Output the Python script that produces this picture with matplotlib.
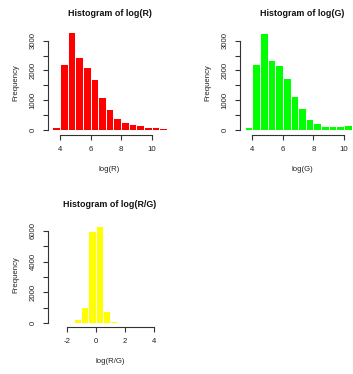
import matplotlib
matplotlib.use("Agg")
import matplotlib.pyplot as plt
import numpy as np

plt.rcParams['font.family'] = ['Liberation Sans', 'DejaVu Sans']

# Histogram bin edges (width 0.5) and counts
r_edges = [3.5, 4.0, 4.5, 5.0, 5.5, 6.0, 6.5, 7.0, 7.5, 8.0, 8.5, 9.0, 9.5, 10.0, 10.5, 11.0]
r_counts = [100, 2230, 3280, 2460, 2120, 1700, 1100, 700, 400, 250, 190, 160, 100, 100, 45]

g_edges = [3.5, 4.0, 4.5, 5.0, 5.5, 6.0, 6.5, 7.0, 7.5, 8.0, 8.5, 9.0, 9.5, 10.0, 10.5]
g_counts = [90, 2230, 3270, 2340, 2170, 1740, 1120, 720, 360, 230, 125, 125, 125, 170]

rg_edges = [-1.5, -1.0, -0.5, 0.0, 0.5, 1.0, 1.5, 2.0]
rg_counts = [290, 1030, 6000, 6330, 810, 150, 40]

r_xticks = [4, 6, 8, 10]
g_xticks = [4, 6, 8, 10]
rg_xticks = [-2, 0, 2, 4]

W, H = 353, 374
fig = plt.figure(figsize=(W / 100, H / 100), dpi=100)


def px_axes(left, right, top, bottom):
    return fig.add_axes([left / W, 1 - bottom / H, (right - left) / W, (bottom - top) / H])


def r_hist(ax, edges, counts, color, title, title_y, xlabel, xlim, ylim, xticks, ystep, ylabstep):
    edges = np.asarray(edges)
    ax.bar(edges[:-1], counts, width=np.diff(edges), align='edge',
           color=color, edgecolor='white', linewidth=0.7)
    ax.set_xlim(*xlim)
    ax.set_ylim(*ylim)
    for s in ('top', 'right'):
        ax.spines[s].set_visible(False)
    ax.spines['bottom'].set_bounds(xticks[0], xticks[-1])
    ymax = ystep * int(max(counts) // ystep)
    yt = np.arange(0, ymax + 1, ystep)
    ax.spines['left'].set_bounds(0, yt[-1])
    for s in ('bottom', 'left'):
        ax.spines[s].set_linewidth(0.8)
        ax.spines[s].set_color('#333333')
    ax.set_xticks(xticks)
    ax.set_xticklabels([str(t) for t in xticks])
    ax.set_yticks(yt)
    ax.set_yticklabels([str(int(v)) if v % ylabstep == 0 else '' for v in yt],
                       rotation=90, va='center')
    ax.tick_params(direction='out', length=3.6, width=0.8, color='#333333',
                   labelsize=5.6, labelcolor='#222222', pad=4.5)
    # title centred over the plot region at a fixed pixel height
    bb = ax.get_position()
    fig.text((bb.x0 + bb.x1) / 2, 1 - title_y / H, title, fontsize=6.4,
             fontweight='bold', color='#111111', ha='center', va='center')
    ax.set_xlabel(xlabel, fontsize=5.6, labelpad=9.5, color='#222222')
    ax.set_ylabel('Frequency', fontsize=5.6, labelpad=7.5, color='#222222')


ax1 = px_axes(47.8, 171.5, 29.5, 135.0)
r_hist(ax1, r_edges, r_counts, '#ff0000', 'Histogram of log(R)', 13.5, 'log(R)',
       (3.2, 11.3), (-180, 3380), r_xticks, 500, 1000)

ax2 = px_axes(240.0, 364.0, 29.5, 135.0)
r_hist(ax2, g_edges, g_counts, '#00ff00', 'Histogram of log(G)', 13.5, 'log(G)',
       (3.2, 11.3), (-180, 3380), g_xticks, 500, 1000)

ax3 = px_axes(48.0, 172.0, 223.0, 327.0)
r_hist(ax3, rg_edges, rg_counts, '#ffff00', 'Histogram of log(R/G)', 204.5, 'log(R/G)',
       (-3.29, 5.26), (-240, 6500), rg_xticks, 1000, 2000)

fig.savefig('out.png', dpi=100)
